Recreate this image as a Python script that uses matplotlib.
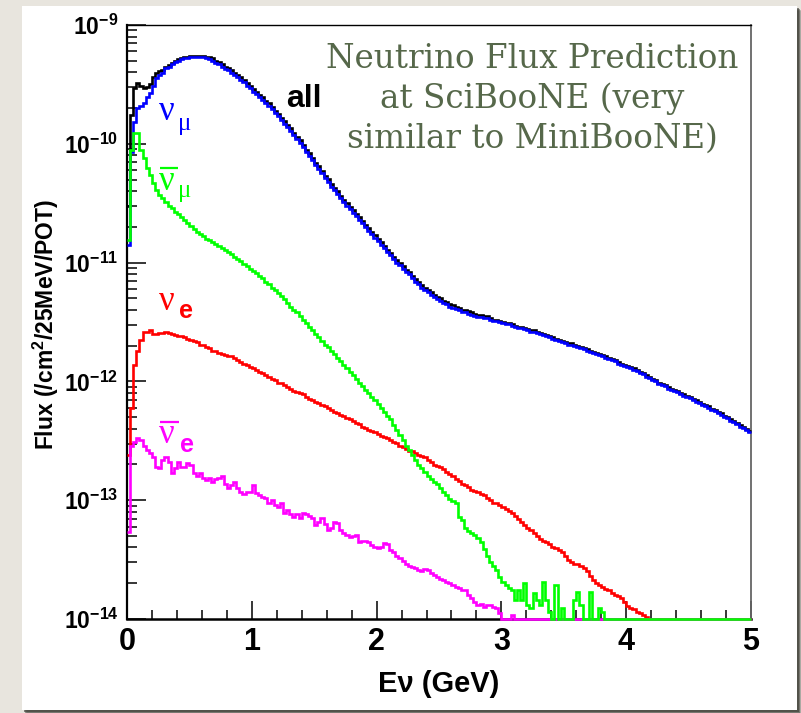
import numpy as np
import matplotlib
matplotlib.use("Agg")
import matplotlib.pyplot as plt
from matplotlib.patches import Rectangle
from matplotlib.lines import Line2D
from matplotlib.ticker import MultipleLocator, FixedLocator, FuncFormatter, NullFormatter

# ---- data: log10 of flux (/cm2/25MeV/POT) per 25 MeV bin, 0..5 GeV ----
E = np.nan  # empty bin (drawn on the axis floor)
bin_width = 0.025
n_bins = 200

all_log = [
    -10.52, -9.76, -9.53, -9.49, -9.51, -9.53, -9.52, -9.50, -9.44, -9.40,
    -9.39, -9.38, -9.35, -9.34, -9.32, -9.30, -9.29, -9.28, -9.27, -9.27,
    -9.26, -9.26, -9.26, -9.26, -9.26, -9.27, -9.27, -9.28, -9.30, -9.31,
    -9.33, -9.35, -9.36, -9.38, -9.40, -9.42, -9.44, -9.46, -9.49, -9.51,
    -9.54, -9.56, -9.59, -9.61, -9.64, -9.66, -9.69, -9.72, -9.75, -9.78,
    -9.81, -9.84, -9.87, -9.91, -9.94, -9.97, -10.01, -10.05, -10.08, -10.12,
    -10.16, -10.19, -10.23, -10.27, -10.30, -10.34, -10.37, -10.40, -10.44, -10.47,
    -10.50, -10.53, -10.56, -10.59, -10.62, -10.65, -10.68, -10.71, -10.74, -10.77,
    -10.80, -10.83, -10.86, -10.89, -10.92, -10.95, -10.98, -11.00, -11.03, -11.06,
    -11.08, -11.11, -11.14, -11.16, -11.19, -11.21, -11.23, -11.25, -11.27, -11.29,
    -11.30, -11.32, -11.33, -11.35, -11.36, -11.37, -11.38, -11.40, -11.40, -11.41,
    -11.42, -11.43, -11.44, -11.44, -11.45, -11.45, -11.47, -11.48, -11.48, -11.49,
    -11.50, -11.51, -11.51, -11.52, -11.53, -11.54, -11.54, -11.55, -11.56, -11.57,
    -11.57, -11.58, -11.59, -11.60, -11.61, -11.62, -11.63, -11.64, -11.65, -11.66,
    -11.67, -11.68, -11.68, -11.69, -11.70, -11.71, -11.72, -11.73, -11.74, -11.75,
    -11.76, -11.77, -11.78, -11.79, -11.80, -11.81, -11.82, -11.84, -11.85, -11.86,
    -11.87, -11.88, -11.89, -11.90, -11.92, -11.93, -11.95, -11.96, -11.98, -11.99,
    -12.01, -12.02, -12.03, -12.05, -12.06, -12.07, -12.08, -12.10, -12.11, -12.12,
    -12.13, -12.15, -12.16, -12.17, -12.19, -12.20, -12.21, -12.23, -12.24, -12.26,
    -12.27, -12.29, -12.30, -12.32, -12.33, -12.35, -12.37, -12.38, -12.40, -12.42,
]

numu_log = [
    -10.85, -10.07, -9.82, -9.70, -9.68, -9.66, -9.61, -9.57, -9.51, -9.45,
    -9.42, -9.40, -9.36, -9.35, -9.33, -9.31, -9.30, -9.29, -9.28, -9.28,
    -9.27, -9.27, -9.27, -9.27, -9.27, -9.28, -9.29, -9.30, -9.32, -9.33,
    -9.35, -9.37, -9.38, -9.40, -9.42, -9.44, -9.46, -9.48, -9.51, -9.53,
    -9.56, -9.58, -9.61, -9.63, -9.66, -9.68, -9.71, -9.74, -9.77, -9.80,
    -9.83, -9.86, -9.89, -9.93, -9.96, -9.99, -10.03, -10.07, -10.10, -10.14,
    -10.18, -10.21, -10.25, -10.29, -10.32, -10.36, -10.39, -10.42, -10.46, -10.49,
    -10.52, -10.55, -10.58, -10.61, -10.64, -10.67, -10.70, -10.73, -10.76, -10.79,
    -10.82, -10.85, -10.88, -10.91, -10.94, -10.97, -11.00, -11.02, -11.05, -11.08,
    -11.10, -11.13, -11.16, -11.18, -11.21, -11.23, -11.25, -11.27, -11.29, -11.31,
    -11.32, -11.34, -11.35, -11.37, -11.38, -11.39, -11.40, -11.42, -11.42, -11.43,
    -11.44, -11.45, -11.46, -11.46, -11.47, -11.47, -11.48, -11.49, -11.49, -11.50,
    -11.51, -11.52, -11.52, -11.53, -11.54, -11.55, -11.55, -11.56, -11.57, -11.58,
    -11.58, -11.59, -11.60, -11.61, -11.62, -11.63, -11.64, -11.65, -11.66, -11.67,
    -11.68, -11.69, -11.69, -11.70, -11.71, -11.72, -11.73, -11.74, -11.75, -11.76,
    -11.77, -11.78, -11.79, -11.80, -11.81, -11.82, -11.83, -11.85, -11.86, -11.87,
    -11.88, -11.89, -11.90, -11.91, -11.93, -11.94, -11.96, -11.97, -11.99, -12.00,
    -12.02, -12.03, -12.04, -12.06, -12.07, -12.08, -12.09, -12.11, -12.12, -12.13,
    -12.14, -12.16, -12.17, -12.18, -12.20, -12.21, -12.22, -12.24, -12.25, -12.27,
    -12.28, -12.30, -12.31, -12.33, -12.34, -12.36, -12.38, -12.39, -12.41, -12.43,
]

numubar_log = [
    -10.81, -10.05, -9.91, -9.91, -10.05, -10.12, -10.20, -10.26, -10.33, -10.39,
    -10.43, -10.46, -10.49, -10.52, -10.54, -10.57, -10.59, -10.62, -10.64, -10.67,
    -10.69, -10.72, -10.74, -10.76, -10.78, -10.80, -10.81, -10.83, -10.84, -10.86,
    -10.88, -10.89, -10.91, -10.93, -10.95, -10.97, -10.99, -11.01, -11.03, -11.05,
    -11.07, -11.09, -11.11, -11.13, -11.16, -11.18, -11.21, -11.23, -11.26, -11.28,
    -11.31, -11.34, -11.37, -11.40, -11.42, -11.45, -11.48, -11.51, -11.54, -11.57,
    -11.60, -11.63, -11.66, -11.69, -11.71, -11.74, -11.77, -11.80, -11.83, -11.86,
    -11.89, -11.92, -11.95, -11.98, -12.01, -12.04, -12.07, -12.10, -12.13, -12.16,
    -12.19, -12.22, -12.26, -12.29, -12.32, -12.37, -12.41, -12.45, -12.49, -12.54,
    -12.58, -12.62, -12.66, -12.70, -12.73, -12.76, -12.80, -12.82, -12.85, -12.86,
    -12.90, -12.93, -12.96, -12.99, -13.01, -13.02, -13.14, -13.17, -13.23, -13.26,
    -13.28, -13.29, -13.32, -13.35, -13.41, -13.47, -13.52, -13.55, -13.59, -13.65,
    -13.69, -13.71, -13.74, -13.76, -13.84, -13.76, -13.84, -13.70, -13.88, -13.91,
    -13.78, -13.84, -13.88, -13.69, -13.84, -13.94, E, -13.71, E, -13.91,
    E, E, E, -13.84, -13.77, -13.88, E, E, -13.77, E,
    E, -13.91, -13.94, E, E, E, E, E, E, E,
] + [E] * 40

nue_log = [
    -12.62, -12.22, -11.86, -11.74, -11.65, -11.58, -11.58, -11.57, -11.60, -11.60,
    -11.59, -11.59, -11.58, -11.59, -11.60, -11.61, -11.62, -11.62, -11.63, -11.64,
    -11.65, -11.66, -11.67, -11.69, -11.69, -11.71, -11.72, -11.74, -11.74, -11.76,
    -11.77, -11.78, -11.79, -11.79, -11.80, -11.82, -11.84, -11.85, -11.86, -11.88,
    -11.89, -11.90, -11.92, -11.93, -11.95, -11.96, -11.98, -11.99, -12.01, -12.01,
    -12.03, -12.05, -12.06, -12.08, -12.09, -12.10, -12.11, -12.13, -12.15, -12.16,
    -12.17, -12.18, -12.20, -12.21, -12.22, -12.24, -12.26, -12.27, -12.28, -12.29,
    -12.31, -12.32, -12.33, -12.35, -12.36, -12.38, -12.39, -12.41, -12.42, -12.43,
    -12.44, -12.46, -12.47, -12.48, -12.49, -12.51, -12.52, -12.54, -12.55, -12.57,
    -12.59, -12.59, -12.60, -12.62, -12.63, -12.64, -12.66, -12.68, -12.70, -12.71,
    -12.72, -12.74, -12.76, -12.78, -12.80, -12.82, -12.84, -12.86, -12.87, -12.89,
    -12.91, -12.92, -12.93, -12.95, -12.96, -12.98, -13.00, -13.02, -13.02, -13.04,
    -13.06, -13.07, -13.09, -13.11, -13.13, -13.16, -13.18, -13.21, -13.23, -13.25,
    -13.28, -13.30, -13.33, -13.34, -13.35, -13.37, -13.39, -13.40, -13.42, -13.44,
    -13.47, -13.50, -13.52, -13.54, -13.54, -13.55, -13.57, -13.60, -13.64, -13.67,
    -13.70, -13.71, -13.73, -13.75, -13.76, -13.78, -13.80, -13.81, -13.82, -13.86,
    -13.89, -13.91, -13.92, -13.94, -13.95, -13.97, -13.98, E, E, E,
] + [E] * 30

nuebar_log = [
    -13.27, -12.54, -12.51, -12.48, -12.49, -12.54, -12.58, -12.60, -12.64, -12.72,
    -12.73, -12.66, -12.64, -12.68, -12.77, -12.73, -12.68, -12.72, -12.72, -12.69,
    -12.70, -12.77, -12.80, -12.77, -12.81, -12.83, -12.81, -12.85, -12.82, -12.81,
    -12.80, -12.86, -12.90, -12.87, -12.85, -12.90, -12.93, -12.95, -12.93, -12.93,
    -12.87, -12.94, -12.96, -12.97, -12.98, -13.02, -13.00, -13.04, -13.06, -13.02,
    -13.11, -13.08, -13.12, -13.14, -13.12, -13.15, -13.11, -13.12, -13.13, -13.15,
    -13.21, -13.18, -13.15, -13.20, -13.25, -13.23, -13.18, -13.19, -13.25, -13.28,
    -13.29, -13.31, -13.30, -13.29, -13.35, -13.34, -13.34, -13.35, -13.38, -13.39,
    -13.40, -13.39, -13.36, -13.37, -13.42, -13.44, -13.47, -13.49, -13.51, -13.54,
    -13.55, -13.56, -13.57, -13.59, -13.60, -13.58, -13.59, -13.61, -13.63, -13.65,
    -13.66, -13.67, -13.69, -13.70, -13.71, -13.73, -13.74, -13.76, -13.76, -13.80,
    -13.82, -13.86, -13.88, -13.87, -13.90, -13.88, -13.88, -13.90, -13.91, -13.95,
    E, E, E, -13.97, E, E, E, E, E, E,
] + [E] * 70

y_decades = [-14, -13, -12, -11, -10, -9]
title_lines = ["Neutrino Flux Prediction", "at SciBooNE (very", "similar to MiniBooNE)"]

# ---- style ----
plt.rcParams['font.family'] = ['Liberation Sans', 'DejaVu Sans']
plt.rcParams['font.weight'] = 'bold'
plt.rcParams['mathtext.fontset'] = 'custom'
plt.rcParams['mathtext.rm'] = 'Liberation Sans:bold'
plt.rcParams['mathtext.bf'] = 'Liberation Sans:bold'
plt.rcParams['mathtext.it'] = 'Liberation Sans:bold:italic'

W, H = 801, 713
fig = plt.figure(figsize=(W / 100, H / 100), dpi=100)
fig.patch.set_facecolor('#e8e5de')


def fxy(x, y):
    # pixel position (from top-left) -> figure fraction
    return x / W, 1 - y / H


def ftext(x, y, s, **kw):
    fx, fy = fxy(x, y)
    return fig.text(fx, fy, s, **kw)


def fbar(x0, x1, y, color):
    (a, b), (c, _) = fxy(x0, y), fxy(x1, y)
    fig.add_artist(Line2D([a, c], [b, b], transform=fig.transFigure,
                          color=color, lw=1.6, solid_capstyle='butt'))


# white sheet with a dark drop shadow
sheet_w, sheet_h = (797 - 22) / W, (710 - 6) / H
for off, a in [(5, 0.12), (4, 0.25), (3, 0.45), (2, 0.6)]:
    fig.add_artist(Rectangle(fxy(22 + off, 710 + off), sheet_w, sheet_h,
                             transform=fig.transFigure, facecolor='#3a3a32',
                             edgecolor='none', alpha=a, zorder=-2))
fig.add_artist(Rectangle(fxy(22, 710), sheet_w, sheet_h, transform=fig.transFigure,
                         facecolor='white', edgecolor='none', zorder=-1))

ax = fig.add_axes([127 / W, 1 - 619 / H, (751 - 127) / W, (619 - 25) / H])
ax.set_facecolor('white')
ax.set_yscale('log')
ax.set_xlim(0, 5)
ax.set_ylim(1e-14, 1e-9)

edges = np.arange(n_bins + 1) * bin_width


def to_flux(logs):
    v = 10.0 ** np.array(logs, dtype=float)
    return np.nan_to_num(v, nan=1e-14)


series = [
    (all_log, 'black'),
    (numu_log, '#0000ff'),
    (nue_log, '#ff0000'),
    (nuebar_log, '#ff00ff'),
    (numubar_log, '#00ff00'),
]
for logs, col in series:
    ax.stairs(to_flux(logs), edges, baseline=None, color=col, lw=1.9,
              clip_on=False, zorder=3)

# axes cosmetics (ROOT-like)
ax.xaxis.set_major_locator(MultipleLocator(1))
ax.xaxis.set_minor_locator(MultipleLocator(0.2))
ax.xaxis.set_major_formatter(FuncFormatter(lambda v, p: f'{v:.0f}'))
ax.yaxis.set_major_locator(FixedLocator([10.0 ** d for d in y_decades]))
ax.yaxis.set_minor_locator(FixedLocator(
    [m * 10.0 ** d for d in y_decades[:-1] for m in range(2, 10)]))
ax.yaxis.set_minor_formatter(NullFormatter())
ax.yaxis.set_major_formatter(FuncFormatter(
    lambda v, p: r'$\mathbf{10^{%d}}$' % int(round(np.log10(v)))))

ax.tick_params(which='both', direction='in', top=False, right=False, color='black')
ax.tick_params(axis='y', which='major', length=13.7, width=1.1, pad=6, labelsize=16.5)
ax.tick_params(axis='y', which='minor', length=7.2, width=1.1)
ax.tick_params(axis='x', which='major', length=12.7, width=1.1, pad=6, labelsize=22)
ax.tick_params(axis='x', which='minor', length=6.7, width=1.1)

ax.spines['left'].set_linewidth(1.6)
ax.spines['bottom'].set_linewidth(1.8)
ax.spines['top'].set_linewidth(1.0)
ax.spines['right'].set_linewidth(1.3)
ax.spines['right'].set_color('#666666')

# axis titles
ftext(439, 692, 'Eν (GeV)', fontsize=21, ha='center', va='baseline')
ftext(46, 325, 'Flux (/cm$^{\\mathbf{2}}$/25MeV/POT)', fontsize=16.5,
      rotation=90, ha='center', va='center')

# curve labels
ftext(286, 107, 'all', fontsize=23, color='black', va='baseline')

greek = dict(family='Liberation Serif', fontweight='normal', va='baseline')
ftext(159, 120, 'ν', fontsize=25, color='#0000ff', **greek)
ftext(178, 130, 'μ', fontsize=18, color='#0000ff', **greek)

ftext(159, 190, 'ν', fontsize=25, color='#00ff00', **greek)
fbar(160, 178, 168, '#00ff00')
ftext(178, 197, 'μ', fontsize=18, color='#00ff00', **greek)

ftext(159, 310, 'ν', fontsize=25, color='#ff0000', **greek)
ftext(179, 318, 'e', fontsize=18, color='#ff0000', va='baseline')

ftext(159, 443, 'ν', fontsize=25, color='#ff00ff', **greek)
fbar(160, 179, 422, '#ff00ff')
ftext(180, 452, 'e', fontsize=18, color='#ff00ff', va='baseline')

# note in the corner
for line, yb in zip(title_lines, [68, 108, 148]):
    ftext(532, yb, line, family='DejaVu Serif', fontweight='normal', fontsize=23.5,
          color='#56684a', ha='center', va='baseline')

fig.savefig('out.png', dpi=100, facecolor=fig.get_facecolor())
